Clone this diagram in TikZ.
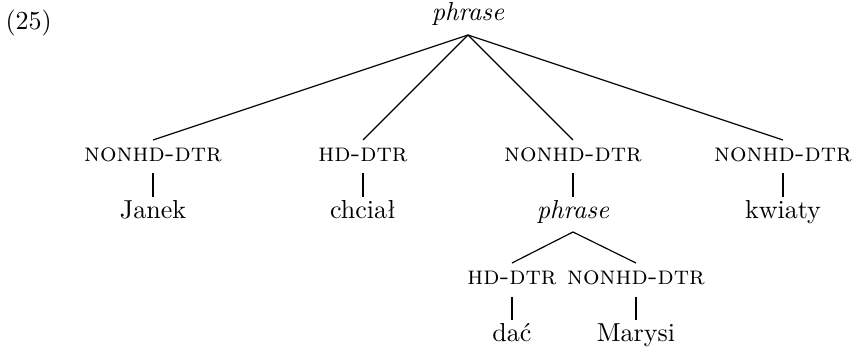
\documentclass[tikz,border=0pt]{standalone}
\begin{document}
\begin{tikzpicture}[x=0.3846pt,y=-0.3846pt,
  lbl/.style={anchor=base,inner sep=0pt,font=\scshape},
  leaf/.style={anchor=base,inner sep=0pt},
  branch/.style={line width=0.45pt},
  bar/.style={line width=1.1pt}]
\useasboundingbox (0,0) rectangle (856,349);
\node[anchor=base west,inner sep=0pt] (ex) at (5,30) {(25)};
% top level
\node[leaf] (root) at (468,21) {\textit{phrase}};
\coordinate (a0) at (468,35);
\node[lbl] (d1) at (153,162) {nonhd-dtr};
\node[lbl] (d2) at (363,162) {hd-dtr};
\node[lbl] (d3) at (573,162) {nonhd-dtr};
\node[lbl] (d4) at (783,162) {nonhd-dtr};
\coordinate (e1) at (153,140);
\coordinate (e2) at (363,140);
\coordinate (e3) at (573,140);
\coordinate (e4) at (783,140);
\foreach \i in {1,2,3,4} \draw[branch] (a0) -- (e\i);
% bars and leaves
\node[leaf] (w1) at (153,219) {Janek};
\node[leaf] (w2) at (363,219) {chciał};
\node[leaf] (p2) at (573,219) {\textit{phrase}};
\node[leaf] (w4) at (783,219) {kwiaty};
\foreach \x/\n in {153/1,363/2,573/3,783/4} {
  \coordinate (b\n t) at (\x,173);
  \coordinate (b\n b) at (\x,197);
  \draw[bar] (b\n t) -- (b\n b);
}
% lower subtree
\coordinate (a1) at (573,232);
\coordinate (f1) at (512,263);
\coordinate (f2) at (636,263);
\draw[branch] (a1) -- (f1);
\draw[branch] (a1) -- (f2);
\node[lbl] (h1) at (512,285) {hd-dtr};
\node[lbl] (h2) at (636,285) {nonhd-dtr};
\coordinate (c1t) at (512,297);
\coordinate (c1b) at (512,320);
\coordinate (c2t) at (636,297);
\coordinate (c2b) at (636,320);
\draw[bar] (c1t) -- (c1b);
\draw[bar] (c2t) -- (c2b);
\node[leaf] (v1) at (512,342) {dać};
\node[leaf] (v2) at (636,342) {Marysi};
\end{tikzpicture}
\end{document}
